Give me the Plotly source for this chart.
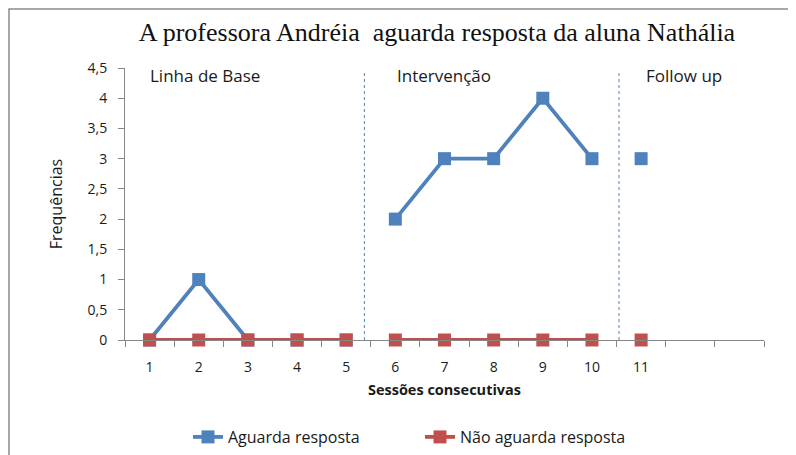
import plotly.graph_objects as go

sessions = [1, 2, 3, 4, 5, 6, 7, 8, 9, 10, 11]
phases = ["Linha de Base"] * 5 + ["Intervenção"] * 5 + ["Follow up"]
aguarda = [0, 1, 0, 0, 0, 2, 3, 3, 4, 3, 3]
nao_aguarda = [0, 0, 0, 0, 0, 0, 0, 0, 0, 0, 0]
phase_labels = ["Linha de Base", "Intervenção", "Follow up"]
y_ticks = [0, 0.5, 1, 1.5, 2, 2.5, 3, 3.5, 4, 4.5]
y_ticktext = ["0", "0,5", "1", "1,5", "2", "2,5", "3", "3,5", "4", "4,5"]

BLUE = "#4F81BD"
RED = "#C0504D"
SANS = "Open Sans, Liberation Sans, sans-serif"
TXT = "#1a1a1a"


def with_gaps(xs, ys, ph):
    ox, oy = [], []
    for i, (x, y) in enumerate(zip(xs, ys)):
        if i > 0 and ph[i] != ph[i - 1]:
            ox.append(None)
            oy.append(None)
        ox.append(x)
        oy.append(y)
    return ox, oy


fig = go.Figure()
bx, by = with_gaps(sessions, aguarda, phases)
rx, ry = with_gaps(sessions, nao_aguarda, phases)
fig.add_trace(go.Scatter(x=bx, y=by, mode="lines+markers", name="Aguarda resposta",
                         line=dict(color=BLUE, width=3.8),
                         marker=dict(symbol="square", size=13, color=BLUE),
                         connectgaps=False, cliponaxis=False, legend="legend"))
fig.add_trace(go.Scatter(x=rx, y=ry, mode="lines+markers", name="Não aguarda resposta",
                         line=dict(color=RED, width=3.8),
                         marker=dict(symbol="square", size=13, color=RED),
                         connectgaps=False, cliponaxis=False, legend="legend2"))

# phase separators
for xv in [5.37, 10.55]:
    fig.add_shape(type="line", xref="x", yref="y", x0=xv, x1=xv, y0=-0.1, y1=4.43,
                  line=dict(color=BLUE, width=1, dash="dot"))

# phase labels
for lab, xv in zip(phase_labels, [0.96, 6.0, 11.05]):
    fig.add_annotation(x=xv, y=4.37, xref="x", yref="y", text=lab, showarrow=False,
                       xanchor="left", yanchor="middle",
                       font=dict(family=SANS, size=17, color=TXT))

# figure is placed 8px into the page (body margin)
W, H = 788, 447
L, R, T, B = 117, 32, 60, 115
PW, PH = W - L - R, H - T - B

# outer frame
fig.add_shape(type="rect", xref="paper", yref="paper",
              x0=(1 - L) / PW, x1=1.2, y0=(H - B - 1) / PH, y1=-1.0,
              line=dict(color="#8c8c8c", width=1.5), fillcolor="rgba(0,0,0,0)", layer="below")

legend_common = dict(orientation="h", yanchor="middle", xanchor="left",
                     y=(H - B - (437 - 8)) / PH,
                     font=dict(family=SANS, size=16, color=TXT), bgcolor="rgba(0,0,0,0)")

fig.update_layout(
    width=W, height=H,
    margin=dict(l=L, r=R, t=T, b=B, autoexpand=False),
    paper_bgcolor="white", plot_bgcolor="white",
    title=dict(text="A professora Andréia  aguarda resposta da aluna Nathália",
               x=(437 - 8) / W, xanchor="center", y=1 - (32 - 8) / H, yanchor="middle",
               font=dict(family="Liberation Serif, DejaVu Serif, serif", size=26, color="#111111")),
    showlegend=True,
    legend=dict(x=(188 - 8 - L) / PW, **legend_common),
    legend2=dict(x=(420 - 8 - L) / PW, **legend_common),
    xaxis=dict(range=[0.5, 13.5], tickvals=sessions, ticktext=[str(s) for s in sessions],
               ticks="", showgrid=False, zeroline=False, showline=True, linecolor="#868686",
               linewidth=1, tickfont=dict(family=SANS, size=14, color=TXT), automargin=False,
               ticklabelstandoff=14,
               minor=dict(tickvals=[i + 0.5 for i in range(14)], ticks="outside", ticklen=6,
                          tickcolor="#868686", showgrid=False),
               title=dict(text="<b>Sessões consecutivas</b>", standoff=10,
                          font=dict(family=SANS, size=14.5, color=TXT)),
               fixedrange=True),
    yaxis=dict(range=[0, 4.5], tickvals=y_ticks, ticktext=y_ticktext, ticks="outside",
               ticklen=6, tickcolor="#868686", showgrid=False, zeroline=False, showline=True,
               linecolor="#868686", linewidth=1, automargin=False, ticklabelstandoff=8,
               tickfont=dict(family=SANS, size=14, color=TXT),
               title=dict(text="Frequências", standoff=20,
                          font=dict(family=SANS, size=16, color=TXT))),
)

fig.write_html("out.html")
